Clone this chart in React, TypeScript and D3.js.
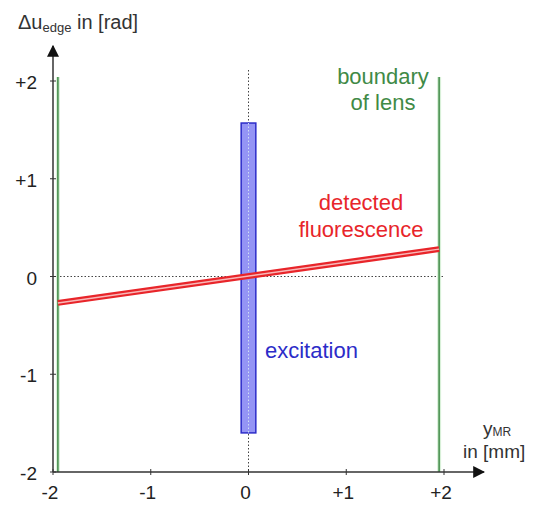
import { useEffect, useRef } from "react";
import * as d3 from "d3";

const xTicks = [-2, -1, 0, 1, 2];
const xTickLabels = ["-2", "-1", "0", "+1", "+2"];
const yTicks = [-2, -1, 0, 1, 2];
const yTickLabels = ["-2", "-1", "0", "+1", "+2"];
const lensBoundary = [-1.95, 1.95];
const fluorescence = [
  { x: -1.95, y: -0.27 },
  { x: 1.95, y: 0.28 },
];
const excitation = { x0: -0.075, x1: 0.075, y0: -1.6, y1: 1.57 };

export default function App() {
  const ref = useRef<SVGSVGElement>(null);

  useEffect(() => {
    const svg = d3.select(ref.current);
    svg.selectAll("*").remove();
    const font = "Liberation Sans, Arial, sans-serif";

    const x = d3.scaleLinear().domain([-2, 2]).range([53, 444]);
    const y = d3.scaleLinear().domain([-2, 2]).range([472, 81]);

    const defs = svg.append("defs");
    defs
      .append("marker")
      .attr("id", "arrow")
      .attr("viewBox", "0 0 10 10")
      .attr("refX", 9)
      .attr("refY", 5)
      .attr("markerWidth", 12)
      .attr("markerHeight", 12)
      .attr("markerUnits", "userSpaceOnUse")
      .attr("orient", "auto")
      .append("path")
      .attr("d", "M0,0 L10,5 L0,10 z")
      .attr("fill", "#111");

    // dotted zero lines
    svg
      .append("line")
      .attr("x1", x(0))
      .attr("x2", x(0))
      .attr("y1", 70)
      .attr("y2", y(-2))
      .attr("stroke", "#444")
      .attr("stroke-width", 1)
      .attr("stroke-dasharray", "1.5,2");
    svg
      .append("line")
      .attr("x1", x(-2))
      .attr("x2", x(2))
      .attr("y1", y(0))
      .attr("y2", y(0))
      .attr("stroke", "#444")
      .attr("stroke-width", 1)
      .attr("stroke-dasharray", "1.5,2");

    // lens boundaries
    lensBoundary.forEach((b) => {
      svg
        .append("line")
        .attr("x1", x(b))
        .attr("x2", x(b))
        .attr("y1", 77)
        .attr("y2", y(-2))
        .attr("stroke", "#d8f0d8")
        .attr("stroke-width", 4);
      svg
        .append("line")
        .attr("x1", x(b))
        .attr("x2", x(b))
        .attr("y1", 77)
        .attr("y2", y(-2))
        .attr("stroke", "#3f8a46")
        .attr("stroke-width", 1.5);
    });

    // excitation bar
    svg
      .append("rect")
      .attr("x", x(excitation.x0))
      .attr("y", y(excitation.y1))
      .attr("width", x(excitation.x1) - x(excitation.x0))
      .attr("height", y(excitation.y0) - y(excitation.y1))
      .attr("fill", "#9494f5")
      .attr("stroke", "#2c2cc8")
      .attr("stroke-width", 1.5);
    svg
      .append("line")
      .attr("x1", x(0))
      .attr("x2", x(0))
      .attr("y1", y(excitation.y1))
      .attr("y2", y(excitation.y0))
      .attr("stroke", "#d0e0f4")
      .attr("stroke-width", 1)
      .attr("stroke-dasharray", "1.5,2");

    // detected fluorescence (double line)
    const line = d3
      .line<{ x: number; y: number }>()
      .x((d) => x(d.x))
      .y((d) => y(d.y));
    svg
      .append("path")
      .attr("d", line(fluorescence))
      .attr("stroke", "#e8252a")
      .attr("stroke-width", 6)
      .attr("fill", "none");
    svg
      .append("path")
      .attr("d", line(fluorescence))
      .attr("stroke", "#f8b8b8")
      .attr("stroke-width", 1.5)
      .attr("fill", "none");

    // axes
    svg
      .append("line")
      .attr("x1", x(-2))
      .attr("x2", 484)
      .attr("y1", y(-2))
      .attr("y2", y(-2))
      .attr("stroke", "#333")
      .attr("stroke-width", 1.5)
      .attr("marker-end", "url(#arrow)");
    svg
      .append("line")
      .attr("x1", x(-2))
      .attr("x2", x(-2))
      .attr("y1", y(-2))
      .attr("y2", 46)
      .attr("stroke", "#333")
      .attr("stroke-width", 1.5)
      .attr("marker-end", "url(#arrow)");

    xTicks.forEach((t, i) => {
      svg
        .append("line")
        .attr("x1", x(t))
        .attr("x2", x(t))
        .attr("y1", y(-2) - 3)
        .attr("y2", y(-2) + 3)
        .attr("stroke", "#333");
      svg
        .append("text")
        .attr("x", x(t) - 3)
        .attr("y", 499)
        .attr("text-anchor", "middle")
        .attr("font-family", font)
        .attr("font-size", 19)
        .attr("fill", "#222")
        .text(xTickLabels[i]);
    });
    yTicks.forEach((t, i) => {
      svg
        .append("line")
        .attr("x1", x(-2) - 3)
        .attr("x2", x(-2) + 3)
        .attr("y1", y(t))
        .attr("y2", y(t))
        .attr("stroke", "#333");
      svg
        .append("text")
        .attr("x", 37)
        .attr("y", y(t) + 8)
        .attr("text-anchor", "end")
        .attr("font-family", font)
        .attr("font-size", 19)
        .attr("fill", "#222")
        .text(yTickLabels[i]);
    });

    // axis titles
    const yt = svg
      .append("text")
      .attr("x", 18)
      .attr("y", 29)
      .attr("font-family", font)
      .attr("font-size", 20)
      .attr("fill", "#333");
    yt.append("tspan").text("Δu");
    yt.append("tspan").attr("font-size", 13).attr("dy", 3).text("edge");
    yt.append("tspan").attr("dy", -3).text(" in [rad]");

    const xt = svg
      .append("text")
      .attr("x", 483)
      .attr("y", 435)
      .attr("font-family", font)
      .attr("font-size", 19)
      .attr("fill", "#333");
    xt.append("tspan").text("y");
    xt.append("tspan").attr("font-size", 12).attr("dy", 1).text("MR");
    svg
      .append("text")
      .attr("x", 463)
      .attr("y", 458)
      .attr("font-family", font)
      .attr("font-size", 19)
      .attr("fill", "#333")
      .text("in [mm]");

    // annotations
    const note = (tx: number, ty: number, s: string, c: string) =>
      svg
        .append("text")
        .attr("x", tx)
        .attr("y", ty)
        .attr("text-anchor", "middle")
        .attr("font-family", font)
        .attr("font-size", 22)
        .attr("fill", c)
        .text(s);
    note(383, 84, "boundary", "#3f8a46");
    note(383, 110, "of lens", "#3f8a46");
    note(361, 210, "detected", "#e8252a");
    note(361, 237, "fluorescence", "#e8252a");
    svg
      .append("text")
      .attr("x", 265)
      .attr("y", 358)
      .attr("font-family", font)
      .attr("font-size", 22)
      .attr("fill", "#2c2cc8")
      .text("excitation");
  }, []);

  return (
    <svg
      ref={ref}
      width={540}
      height={505}
      style={{ position: "absolute", left: 0, top: 0, background: "#fff" }}
    />
  );
}
